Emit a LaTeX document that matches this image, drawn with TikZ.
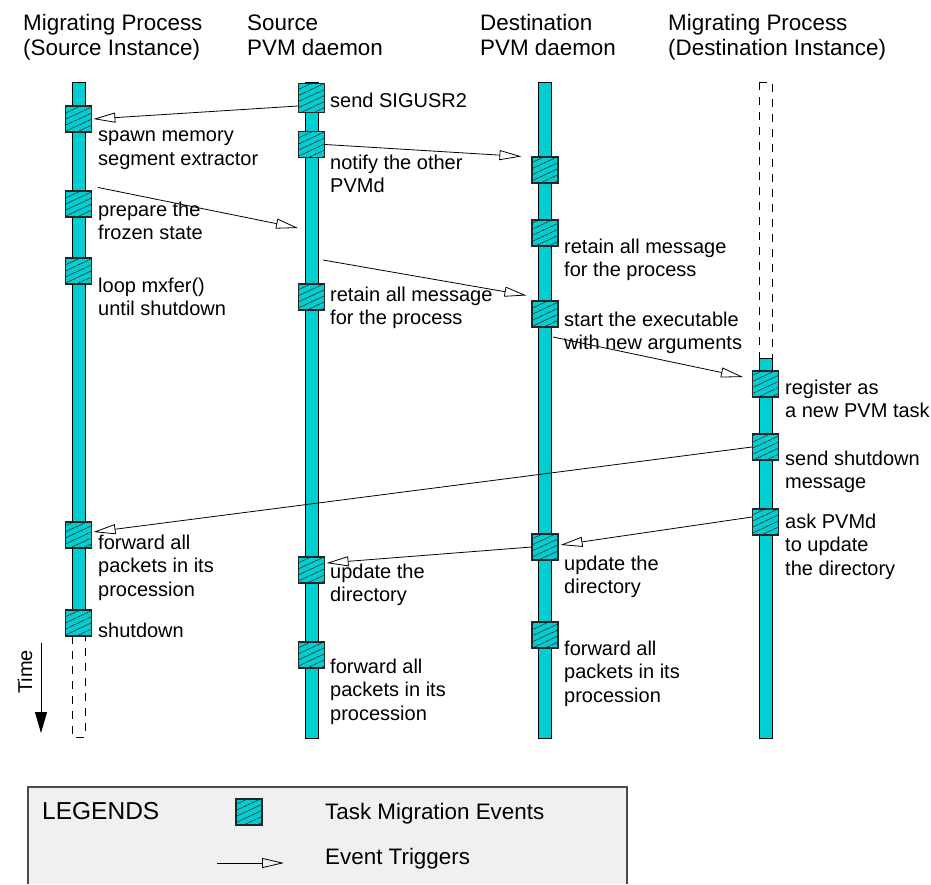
\documentclass[tikz,border=0pt]{standalone}
\usepackage{fontspec}
\setmainfont{Liberation Sans}
\usetikzlibrary{arrows.meta,patterns.meta,calc}
\definecolor{barcyan}{RGB}{0,206,209}
\definecolor{legendbg}{RGB}{240,240,240}
\begin{document}
\begin{tikzpicture}[x=1pt,y=-1pt,
  bar/.style={draw=black, line width=1pt, fill=barcyan},
  ghost/.style={draw=black, line width=0.9pt, dash pattern=on 8pt off 7pt},
  evt/.style={rectangle, draw=black!85, line width=1.1pt, minimum width=26pt,
    minimum height=26pt, inner sep=0pt, preaction={fill=barcyan},
    pattern={Lines[angle=25,distance=5.5pt,line width=0.6pt]}, pattern color=black!80},
  trig/.style={line width=0.8pt, -{Triangle[open, length=22pt, width=10pt]}},
  lbl/.style={anchor=north west, inner sep=0pt, align=left,
    font=\fontsize{20}{23.5}\selectfont, execute at begin node=\strut, yshift=16.45pt},
  hdr/.style={anchor=north west, inner sep=0pt, align=left,
    font=\fontsize{22.4}{25}\selectfont, execute at begin node=\strut, yshift=17.5pt},
  lgd/.style={anchor=base west, inner sep=0pt, font=\fontsize{22.4}{26}\selectfont},
]
\useasboundingbox (0,0) rectangle (931,884);

% column headers
\node[hdr] (h1) at (23,32) {Migrating Process\\(Source Instance)};
\node[hdr] (h2) at (247,32) {Source\\PVM daemon};
\node[hdr] (h3) at (480,32) {Destination\\PVM daemon};
\node[hdr] (h4) at (668,32) {Migrating Process\\(Destination Instance)};

% time lines
\path[bar] (72,82) rectangle (85,623);
\path[ghost] (72,636) rectangle (85,737);
\path[bar] (305,82) rectangle (318,738);
\path[bar] (538.5,82) rectangle (551.5,738);
\path[ghost] (759,82) rectangle (772,358);
\path[bar] (759,358) rectangle (772,738);

% events: source process
\node[evt] (m1) at (78.5,119) {};
\node[evt] (m2) at (78.5,204) {};
\node[evt] (m3) at (78.5,271) {};
\node[evt] (m4) at (78.5,535) {};
\node[evt] (m5) at (78.5,623) {};
% events: source daemon
\node[evt, minimum height=29pt] (p1) at (311.5,98) {};
\node[evt] (p2) at (311.5,144.5) {};
\node[evt] (p3) at (311.5,297) {};
\node[evt] (p4) at (311.5,570) {};
\node[evt] (p5) at (311.5,655) {};
% events: destination daemon
\node[evt] (d1) at (545,170) {};
\node[evt] (d2) at (545,233) {};
\node[evt] (d3) at (545,314) {};
\node[evt] (d4) at (545,547) {};
\node[evt] (d5) at (545,635) {};
% events: destination process
\node[evt] (q1) at (765.5,384) {};
\node[evt] (q2) at (765.5,447) {};
\node[evt] (q3) at (765.5,522) {};

% event labels
\node[lbl] (lm1) at (98,147) {spawn memory\\segment extractor};
\node[lbl] (lm2) at (98,218) {prepare the\\frozen state};
\node[lbl] (lm3) at (98,294) {loop mxfer()\\until shutdown};
\node[lbl] (lm4) at (98,551) {forward all\\packets in its\\procession};
\node[lbl] (lm5) at (98,637) {shutdown};

\node[lbl] (lp1) at (330,107) {send SIGUSR2};
\node[lbl] (lp2) at (330,171) {notify the other\\PVMd};
\node[lbl] (lp3) at (330,303) {retain all message\\for the process};
\node[lbl] (lp4) at (330,580) {update the\\directory};
\node[lbl] (lp5) at (330,675) {forward all\\packets in its\\procession};

\node[lbl] (ld2) at (564,255) {retain all message\\for the process};
\node[lbl] (ld3) at (564,328) {start the executable\\with new arguments};
\node[lbl] (ld4) at (564,572) {update the\\directory};
\node[lbl] (ld5) at (564,657) {forward all\\packets in its\\procession};

\node[lbl] (lq1) at (785,396) {register as\\a new PVM task};
\node[lbl] (lq2) at (785,467) {send shutdown\\message};
\node[lbl] (lq3) at (785,530) {ask PVMd\\to update\\the directory};

% free ends on the daemon bars
\coordinate (pin) at (298,228);
\coordinate (pout) at (323,260);
\coordinate (dout) at (553,337);

% event triggers
\draw[trig] ($(p1.west)+(0,8)$) -- ($(m1.east)+(1.5,0)$);
\draw[trig] (p2.east) -- ($(d1.north west)+(-10,0)$);
\draw[trig] ($(m2.north east)+(6,-3)$) -- (pin);
\draw[trig] (pout) -- ($(d3.north west)+(-5,-5)$);
\draw[trig] (dout) -- ($(q1.west)+(-9,-7)$);
\draw[trig] (q2.west) -- ($(m4.east)+(1.5,-3)$);
\draw[trig] ($(q3.west)+(0,-5)$) -- ($(d4.east)+(2,-2)$);
\draw[trig] (d4.west) -- ($(p4.east)+(1.5,-7)$);

% time axis
\coordinate (t0) at (41,643);
\coordinate (t1) at (41,733);
\draw[line width=0.9pt, -{Triangle[length=21pt,width=12pt]}] (t0) -- (t1);
\node[rotate=90, inner sep=0pt, font=\fontsize{20}{24}\selectfont] (time) at (25,672) {Time};

% legend
\fill[legendbg] (28,787) rectangle (627,884);
\draw[line width=1.3pt, draw=black!70] (28,884) -- (28,787) -- (627,787) -- (627,884);
\node[lgd, font=\fontsize{24.5}{28}\selectfont] (legt) at (42,819) {LEGENDS};
\node[evt] (legevt) at (249,812) {};
\node[lgd] (lege) at (325,819) {Task Migration Events};
\coordinate (lga) at (217,863);
\coordinate (lgb) at (284,863);
\draw[trig] (lga) -- (lgb);
\node[lgd] (legr) at (325,864) {Event Triggers};
\end{tikzpicture}
\end{document}
